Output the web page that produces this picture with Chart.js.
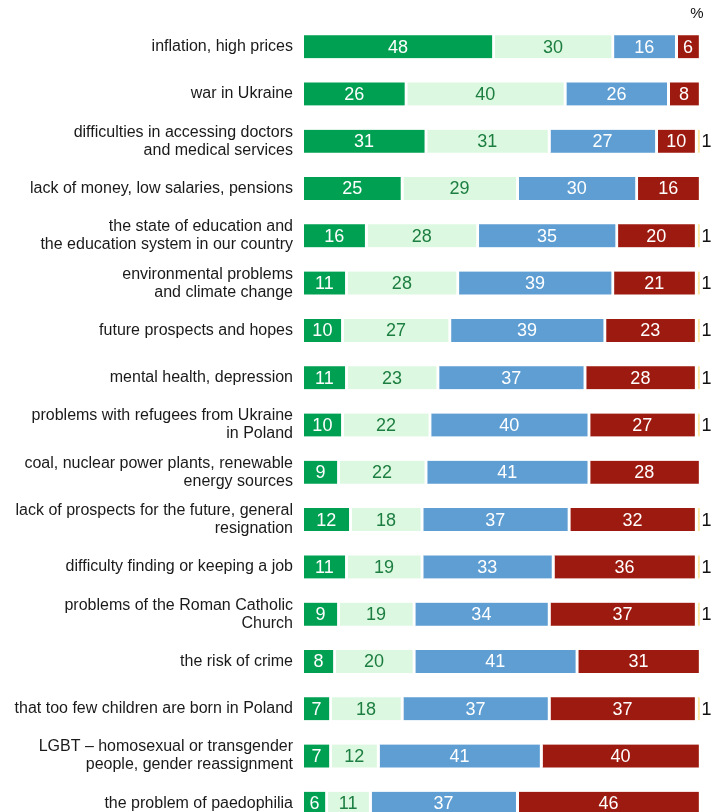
<!DOCTYPE html>
<html>
<head>
<meta charset="utf-8">
<script src="https://cdn.jsdelivr.net/npm/chart.js@4"></script>
<style>
  html, body { margin: 0; padding: 0; background: #fff; overflow: hidden; }
  #wrap { position: absolute; left: 0; top: 0; width: 724px; height: 847px; }
</style>
</head>
<body>
<div id="wrap"><canvas id="c"></canvas></div>
<script>
const categories = [
  ["inflation, high prices"],
  ["war in Ukraine"],
  ["difficulties in accessing doctors", "and medical services"],
  ["lack of money, low salaries, pensions"],
  ["the state of education and", "the education system in our country"],
  ["environmental problems", "and climate change"],
  ["future prospects and hopes"],
  ["mental health, depression"],
  ["problems with refugees from Ukraine", "in Poland"],
  ["coal, nuclear power plants, renewable", "energy sources"],
  ["lack of prospects for the future, general", "resignation"],
  ["difficulty finding or keeping a job"],
  ["problems of the Roman Catholic", "Church"],
  ["the risk of crime"],
  ["that too few children are born in Poland"],
  ["LGBT \u2013 homosexual or transgender", "people, gender reassignment"],
  ["the problem of paedophilia"]
];
const seriesA = [48, 26, 31, 25, 16, 11, 10, 11, 10, 9, 12, 11, 9, 8, 7, 7, 6];
const seriesB = [30, 40, 31, 29, 28, 28, 27, 23, 22, 22, 18, 19, 19, 20, 18, 12, 11];
const seriesC = [16, 26, 27, 30, 35, 39, 39, 37, 40, 41, 37, 33, 34, 41, 37, 41, 37];
const seriesD = [6, 8, 10, 16, 20, 21, 23, 28, 27, 28, 32, 36, 37, 31, 37, 40, 46];
const seriesE = [null, null, 1, null, 1, 1, 1, 1, 1, null, 1, 1, 1, null, 1, null, null];
const unitLabel = "%";

const FONT = "'Liberation Sans', Arial, sans-serif";
const colors = ['#00A052', '#DDF8E0', '#5E9ED3', '#9C1A0F', '#FBE7A1'];
const labelColors = ['#ffffff', '#1C7E40', '#ffffff', '#ffffff', '#111111'];

const valueLabels = {
  id: 'valueLabels',
  afterDatasetsDraw(chart) {
    const ctx = chart.ctx;
    ctx.save();
    ctx.font = "18px " + FONT;
    ctx.textBaseline = 'middle';
    chart.data.datasets.forEach((ds, di) => {
      const meta = chart.getDatasetMeta(di);
      meta.data.forEach((bar, i) => {
        const v = ds.data[i];
        if (v === null || v === undefined) return;
        ctx.fillStyle = labelColors[di];
        if (di === 4) {
          ctx.textAlign = 'left';
          ctx.fillText(String(v), bar.x, bar.y + 1);
        } else {
          ctx.textAlign = 'center';
          const cx = (bar.base + bar.x - 3) / 2;
          ctx.fillText(String(v), cx, bar.y + 1);
        }
      });
    });
    ctx.font = "15px " + FONT;
    ctx.fillStyle = '#111';
    ctx.textAlign = 'center';
    ctx.fillText(unitLabel, 697, 14);
    ctx.restore();
  }
};

const mk = (data, idx) => ({
  data: data,
  backgroundColor: colors[idx],
  borderColor: '#ffffff',
  borderWidth: { top: 0, bottom: 0, left: 0, right: 3 },
  borderSkipped: false,
  barThickness: 23
});

new Chart(document.getElementById('c'), {
  type: 'bar',
  data: {
    labels: categories,
    datasets: [mk(seriesA, 0), mk(seriesB, 1), mk(seriesC, 2), mk(seriesD, 3), mk(seriesE, 4)]
  },
  options: {
    indexAxis: 'y',
    responsive: true,
    maintainAspectRatio: false,
    devicePixelRatio: 1,
    animation: false,
    layout: { padding: { left: 0, right: 22.5, top: 23, bottom: 0 } },
    plugins: { legend: { display: false }, tooltip: { enabled: false }, title: { display: false } },
    scales: {
      x: { stacked: true, min: 0, max: 100, display: false },
      y: {
        stacked: true,
        grid: { display: false, drawTicks: false },
        border: { display: false },
        ticks: {
          color: '#1a1a1a',
          padding: 11,
          autoSkip: false,
          font: { family: FONT, size: 16, lineHeight: 1.125 }
        },
        afterFit(scale) { scale.width = 304; }
      }
    }
  },
  plugins: [valueLabels]
});
</script>
</body>
</html>
